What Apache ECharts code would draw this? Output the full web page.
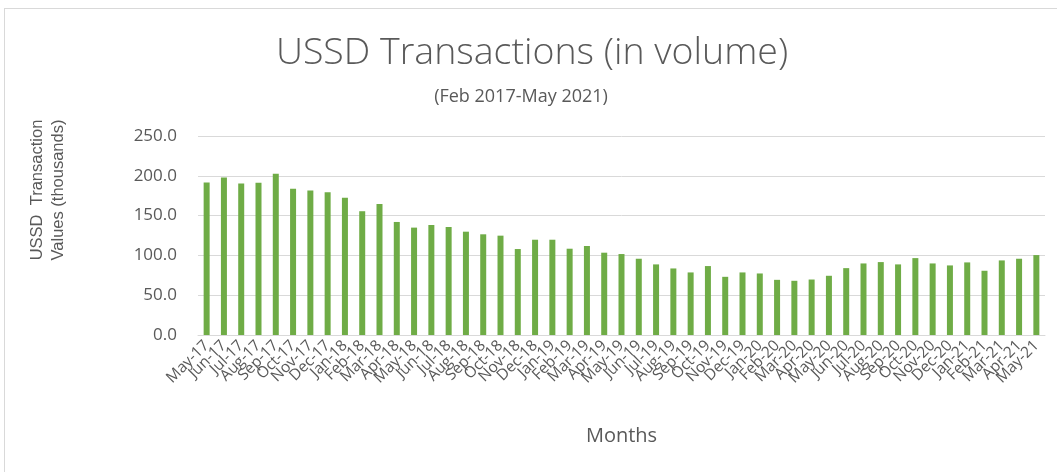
<!DOCTYPE html>
<html>
<head>
<meta charset="utf-8">
<script src="https://cdn.jsdelivr.net/npm/echarts@6/dist/echarts.min.js"></script>
<style>
  html, body { margin: 0; padding: 0; background: #fff; }
  #frame { position: absolute; left: 4px; top: 8px; width: 1060px; height: 470px; border: 1px solid #d9d9d9; box-sizing: border-box; }
  #chart { position: absolute; left: 0; top: 0; width: 1057px; height: 472px; }
</style>
</head>
<body>
<div id="frame"></div>
<div id="chart"></div>
<script>
// Monthly USSD transaction values, thousands
const months = [
  'May-17','Jun-17','Jul-17','Aug-17','Sep-17','Oct-17','Nov-17','Dec-17',
  'Jan-18','Feb-18','Mar-18','Apr-18','May-18','Jun-18','Jul-18','Aug-18','Sep-18','Oct-18','Nov-18','Dec-18',
  'Jan-19','Feb-19','Mar-19','Apr-19','May-19','Jun-19','Jul-19','Aug-19','Sep-19','Oct-19','Nov-19','Dec-19',
  'Jan-20','Feb-20','Mar-20','Apr-20','May-20','Jun-20','Jul-20','Aug-20','Sep-20','Oct-20','Nov-20','Dec-20',
  'Jan-21','Feb-21','Mar-21','Apr-21','May-21'
];
const values = [
  191.6, 197.9, 190.3, 191.2, 202.5, 183.6, 181.5, 179.4,
  172.3, 155.5, 164.7, 142.0, 134.9, 138.2, 135.7, 129.8, 126.5, 124.8, 108.0, 119.7,
  119.7, 108.4, 111.8, 103.4, 101.7, 95.8, 88.7, 83.6, 78.6, 86.6, 73.1, 78.6,
  77.3, 69.3, 68.1, 69.7, 74.4, 84.0, 89.9, 91.6, 88.7, 96.6, 89.9, 87.4,
  91.2, 80.7, 93.7, 95.8, 100.4
];
const yTicks = { min: 0, max: 250, step: 50 };

const FONT = '"Open Sans", "Liberation Sans", sans-serif';
const ARIAL = '"Liberation Sans", Arial, sans-serif';
const GREY = '#595959';

const chart = echarts.init(document.getElementById('chart'), null, { renderer: 'canvas' });
chart.setOption({
  backgroundColor: 'transparent',
  animation: false,
  grid: { left: 198, right: 12, top: 136, bottom: 137, containLabel: false },
  xAxis: {
    type: 'category',
    data: months,
    name: 'Months',
    nameLocation: 'middle',
    nameGap: 91,
    nameTextStyle: { fontFamily: FONT, fontSize: 20, color: GREY },
    axisLine: { lineStyle: { color: '#d9d9d9' } },
    axisTick: { show: false },
    axisLabel: { interval: 0, rotate: 45, margin: 8, fontFamily: FONT, fontSize: 15.5, color: GREY }
  },
  yAxis: {
    type: 'value',
    min: yTicks.min,
    max: yTicks.max,
    interval: yTicks.step,
    axisLine: { show: false },
    axisTick: { show: false },
    splitLine: { lineStyle: { color: '#d9d9d9', width: 1 } },
    axisLabel: {
      margin: 21,
      fontFamily: FONT,
      fontSize: 17,
      color: GREY,
      formatter: v => v.toFixed(1)
    }
  },
  graphic: [
    {
      type: 'text',
      x: 532,
      y: 53,
      style: {
        text: 'USSD Transactions (in volume)',
        font: '300 37.5px ' + FONT,
        fill: GREY,
        align: 'center',
        verticalAlign: 'middle'
      }
    },
    {
      type: 'text',
      x: 521,
      y: 97,
      style: {
        text: '(Feb 2017-May 2021)',
        font: '18px ' + FONT,
        fill: GREY,
        align: 'center',
        verticalAlign: 'middle'
      }
    },
    {
      type: 'text',
      x: 48,
      y: 190,
      rotation: Math.PI / 2,
      style: {
        text: 'USSD  Transaction\nValues (thousands)',
        font: '16.5px ' + ARIAL,
        fill: GREY,
        align: 'center',
        verticalAlign: 'middle',
        lineHeight: 21
      }
    }
  ],
  series: [{
    type: 'bar',
    data: values,
    barWidth: 6,
    itemStyle: { color: '#6fac46' }
  }]
});
</script>
</body>
</html>
